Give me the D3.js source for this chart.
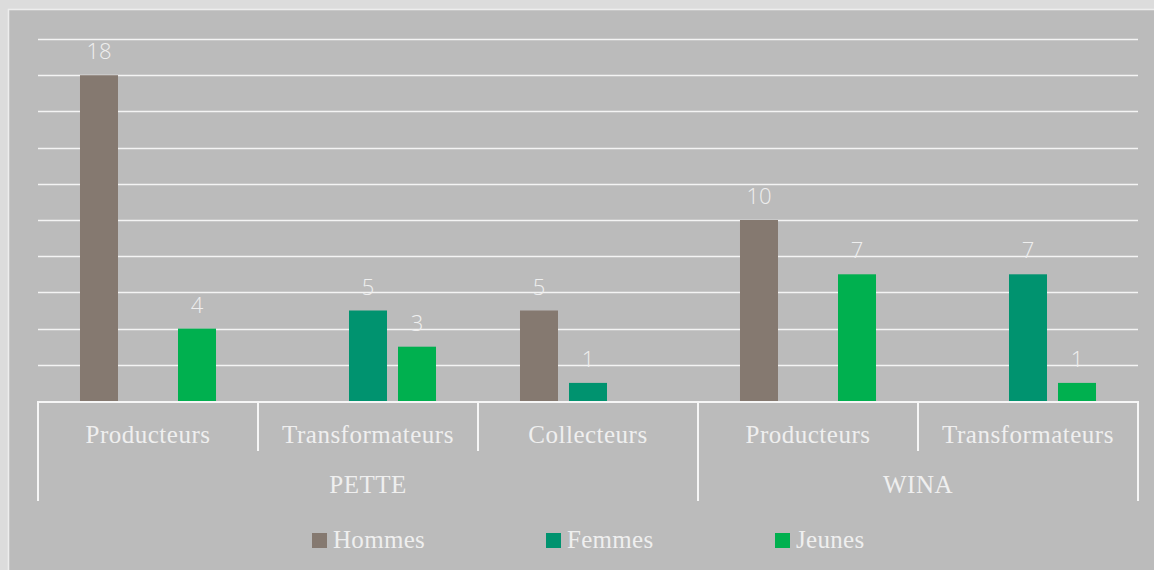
<!DOCTYPE html>
<html><head><meta charset="utf-8">
<script src="https://cdn.jsdelivr.net/npm/d3@7"></script>
<style>html,body{margin:0;padding:0;background:#dcdcdc;overflow:hidden}</style>
</head><body><svg id="c" width="1154" height="570"></svg>
<script>
const groups = ["PETTE", "WINA"];
const categories = [
  {group: "PETTE", name: "Producteurs"},
  {group: "PETTE", name: "Transformateurs"},
  {group: "PETTE", name: "Collecteurs"},
  {group: "WINA", name: "Producteurs"},
  {group: "WINA", name: "Transformateurs"}
];
const seriesNames = ["Hommes", "Femmes", "Jeunes"];
const hommes = [18, null, 5, 10, null];
const femmes = [null, 5, 1, null, 7];
const jeunes = [4, 3, null, 7, 1];
const colors = ["#857970", "#00936f", "#00b04f"];
const yTicks = [0, 2, 4, 6, 8, 10, 12, 14, 16, 18, 20];

(function () {
const series = [hommes, femmes, jeunes];
const svg = d3.select("#c");
svg.append("rect").attr("x", 8.5).attr("y", 9.5).attr("width", 1160).attr("height", 570)
  .attr("fill", "#bbbbbb").attr("stroke", "#ededed").attr("stroke-width", 1.5);

const pl = 38, pr = 1138, pt = 39, pb = 401;
const x0 = d3.scaleBand().domain(d3.range(categories.length)).range([pl, pr]).padding(0);
const x1 = d3.scaleBand().domain(d3.range(seriesNames.length)).range([0, x0.bandwidth()])
  .paddingInner(0.2245).paddingOuter(0.857);
const y = d3.scaleLinear().domain([0, 20]).range([pb, pt]);

svg.append("g").selectAll("line").data(yTicks.filter(d => d > 0)).join("line")
  .attr("x1", pl).attr("x2", pr)
  .attr("y1", d => Math.round(y(d)) + 0.5).attr("y2", d => Math.round(y(d)) + 0.5)
  .attr("stroke", "#f4f4f4").attr("stroke-width", 1.6);

const barData = [];
categories.forEach((c, i) => series.forEach((s, j) => {
  if (s[i] != null) barData.push({i, j, v: s[i]});
}));
svg.append("g").selectAll("rect").data(barData).join("rect")
  .attr("x", d => x0(d.i) + x1(d.j)).attr("width", x1.bandwidth())
  .attr("y", d => y(d.v)).attr("height", d => y(0) - y(d.v))
  .attr("fill", d => colors[d.j]);

svg.append("g").selectAll("text").data(barData).join("text")
  .attr("x", d => x0(d.i) + x1(d.j) + x1.bandwidth() / 2)
  .attr("y", d => y(d.v) - 16)
  .attr("text-anchor", "middle")
  .attr("font-family", "'Open Sans', sans-serif").attr("font-weight", 300).attr("font-size", 22)
  .attr("fill", "#efefef").text(d => d.v);

const ax = svg.append("g").attr("stroke", "#f6f6f6").attr("stroke-width", 2);
ax.append("line").attr("x1", pl).attr("x2", pr).attr("y1", pb + 1).attr("y2", pb + 1);
d3.range(categories.length + 1).forEach(k => {
  const xx = k < categories.length ? x0(k) : pr;
  const prev = categories[k - 1], next = categories[k];
  const isGroupEdge = !prev || !next || prev.group !== next.group;
  ax.append("line").attr("x1", xx).attr("x2", xx)
    .attr("y1", pb).attr("y2", isGroupEdge ? 501 : 451);
});

const tf = "'Liberation Serif', 'Times New Roman', serif";
svg.append("g").selectAll("text").data(categories).join("text")
  .attr("x", (d, i) => x0(i) + x0.bandwidth() / 2).attr("y", 443)
  .attr("text-anchor", "middle").attr("font-family", tf).attr("font-size", 25)
  .attr("letter-spacing", 0.5)
  .attr("fill", "#efefef").text(d => d.name);

svg.append("g").selectAll("text").data(groups).join("text")
  .attr("x", g => {
    const idx = categories.map((c, i) => c.group === g ? i : -1).filter(i => i >= 0);
    return (x0(idx[0]) + x0(idx[idx.length - 1]) + x0.bandwidth()) / 2;
  }).attr("y", 493)
  .attr("text-anchor", "middle").attr("font-family", tf).attr("font-size", 25)
  .attr("letter-spacing", 0.5)
  .attr("fill", "#efefef").text(g => g);

const legX = [312, 546, 775];
const leg = svg.append("g").selectAll("g").data(seriesNames).join("g")
  .attr("transform", (d, i) => `translate(${legX[i]},533)`);
leg.append("rect").attr("width", 15).attr("height", 15).attr("fill", (d, i) => colors[i]);
leg.append("text").attr("x", 21).attr("y", 15).attr("font-family", tf).attr("font-size", 25)
  .attr("letter-spacing", 0.3)
  .attr("fill", "#efefef").text(d => d);
})();
</script></body></html>
